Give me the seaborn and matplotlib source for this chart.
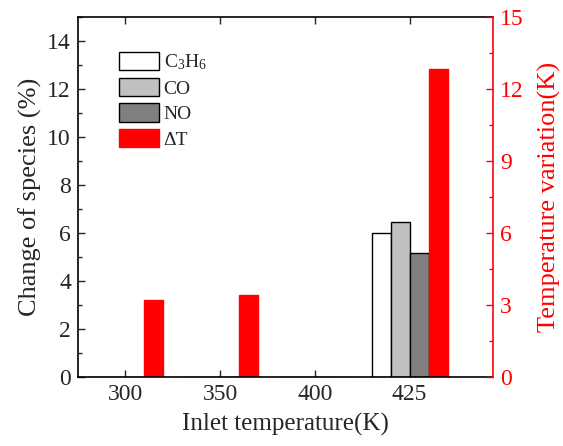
import matplotlib
matplotlib.use("Agg")
import matplotlib.pyplot as plt
from matplotlib.patches import Patch
from matplotlib.ticker import MultipleLocator
import pandas as pd
import seaborn as sns

# Data
temperatures = ["300", "350", "400", "425"]
c3h6 = [0.0, 0.0, 0.0, 6.0]
co = [0.0, 0.0, 0.0, 6.46]
no = [0.0, 0.0, 0.0, 5.17]
delta_t = [3.2, 3.42, 0.0, 12.83]
series_names = ["C$_3$H$_6$", "CO", "NO", "ΔT"]
fill_colors = ["#ffffff", "#c0c0c0", "#808080", "#ff0000"]
edge_colors = ["#000000", "#000000", "#000000", "#ff0000"]

sns.set_style("ticks")
plt.rcParams["font.family"] = ["Liberation Serif", "DejaVu Serif"]
plt.rcParams["mathtext.default"] = "regular"

rows = []
for name, vals in zip(series_names, [c3h6, co, no, delta_t]):
    for t, v in zip(temperatures, vals):
        rows.append({"Inlet temperature": t, "value": v, "series": name})
df = pd.DataFrame(rows)

fig = plt.figure(figsize=(5.63, 4.46), dpi=100)
ax = fig.add_axes([0.1385, 0.1547, 0.7372, 0.8073])

sns.barplot(data=df, x="Inlet temperature", y="value", hue="series",
            hue_order=series_names, order=temperatures,
            palette=fill_colors, width=0.8, gap=0, ax=ax,
            legend=False, saturation=1, errorbar=None)

# per-series outline colours
for container, ec in zip(ax.containers, edge_colors):
    for bar in container:
        bar.set_edgecolor(ec)
        bar.set_linewidth(1.0)

ax.set_xlim(-0.5, 3.88)
ax.set_ylim(0, 15)
ax.yaxis.set_major_locator(MultipleLocator(2))
ax.yaxis.set_minor_locator(MultipleLocator(1))
ax.set_ylabel("Change of species (%)", fontsize=19, labelpad=4)
ax.set_xlabel("Inlet temperature(K)", fontsize=18, labelpad=6)
ax.tick_params(axis="both", which="both", direction="in", labelsize=17,
               top=True, right=False)
ax.tick_params(axis="both", which="major", length=5, width=1, pad=5)
ax.tick_params(axis="y", which="minor", length=3, width=1)
ax.tick_params(axis="x", which="minor", bottom=False, top=False)
for side in ["left", "bottom", "top"]:
    ax.spines[side].set_linewidth(1.2)
    ax.spines[side].set_color("black")
ax.spines["right"].set_visible(False)

# Secondary axis for temperature variation
ax2 = ax.twinx()
ax2.set_ylim(0, 15)
ax2.yaxis.set_major_locator(MultipleLocator(3))
ax2.yaxis.set_minor_locator(MultipleLocator(1.5))
ax2.tick_params(axis="y", which="both", direction="in", colors="red",
                labelsize=17)
ax2.tick_params(axis="y", which="major", length=5, width=1, pad=5)
ax2.tick_params(axis="y", which="minor", length=3, width=1)
ax2.spines["right"].set_color("red")
ax2.spines["right"].set_linewidth(1.2)
for side in ["left", "bottom", "top"]:
    ax2.spines[side].set_visible(False)
ax2.set_ylabel("Temperature variation(K)", color="red", fontsize=19, labelpad=10)

handles = [Patch(facecolor=fc, edgecolor=ec, linewidth=1.0)
           for fc, ec in zip(fill_colors, edge_colors)]
ax.legend(handles, series_names, loc="upper left",
          bbox_to_anchor=(0.08, 0.925), frameon=False, fontsize=14,
          handlelength=2.05, handleheight=1.1, labelspacing=0.28,
          handletextpad=0.25, borderaxespad=0)

fig.savefig("out.png", dpi=100)
